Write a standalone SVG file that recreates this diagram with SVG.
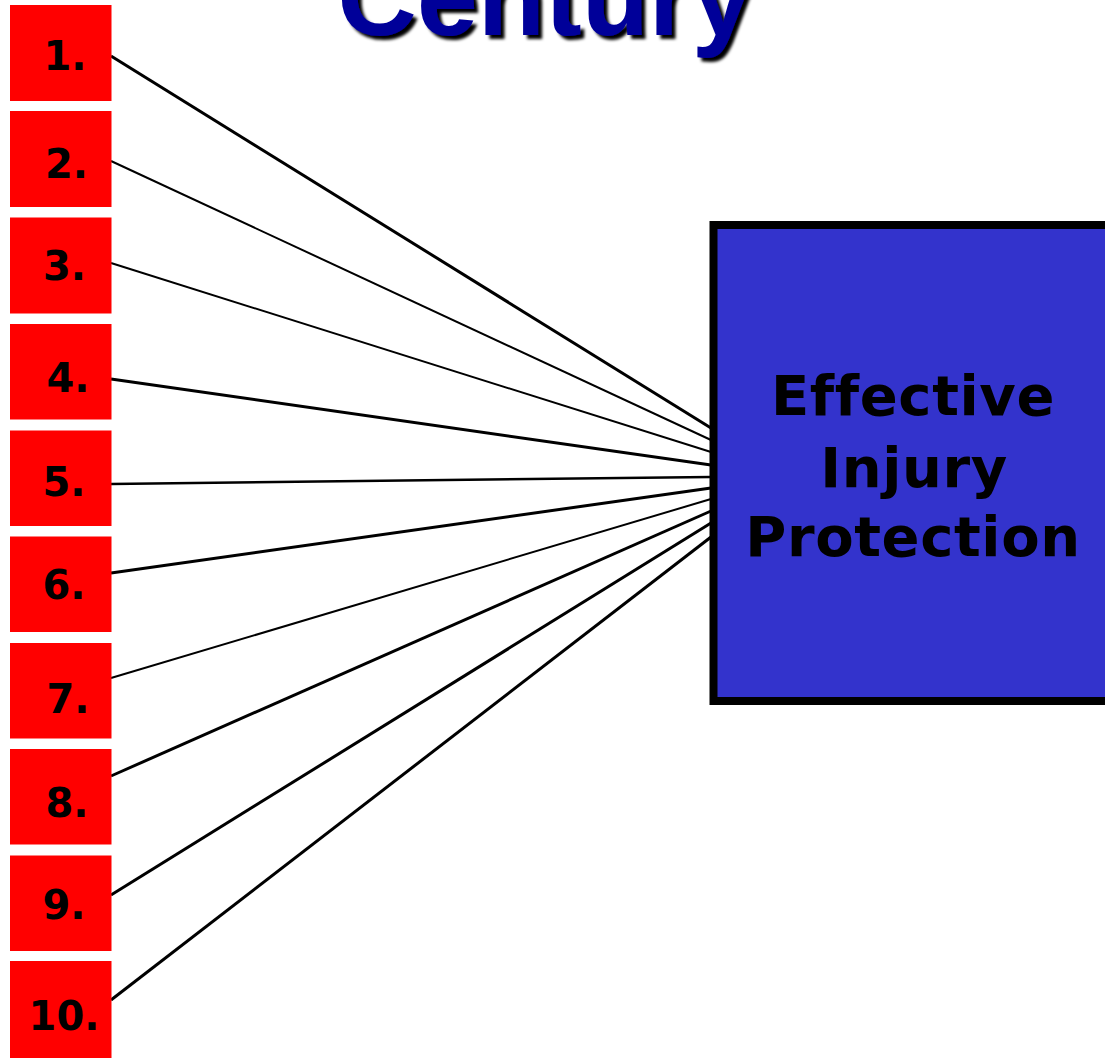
<svg xmlns="http://www.w3.org/2000/svg" width="1105" height="1058" viewBox="0 0 1105 1058">
<style>
.box{fill:#FF0000}
.lbl{font-family:"DejaVu Sans",Verdana,sans-serif;font-weight:bold;font-size:40px;fill:#000;text-anchor:middle}
.main{font-family:"DejaVu Sans",Verdana,sans-serif;font-weight:bold;font-size:56px;fill:#000;text-anchor:middle;letter-spacing:0.6px}
.title{font-family:"Liberation Sans",Arial,sans-serif;font-weight:bold;font-size:110px;text-anchor:middle}
.c{stroke:#000;fill:none;stroke-linecap:butt}
</style>
<defs>
<filter id="sh" x="-10%" y="-50%" width="120%" height="200%">
<feGaussianBlur in="SourceAlpha" stdDeviation="1.5" result="b"/>
<feOffset in="b" dx="4" dy="4" result="o"/>
<feMerge><feMergeNode in="o"/><feMergeNode in="SourceGraphic"/></feMerge>
</filter>
</defs>
<g id="title">
<text class="title" x="545" y="35" fill="#000099" filter="url(#sh)">Century</text>
</g>
<g id="connectors">
<line class="c" x1="111" y1="56" x2="711" y2="428" stroke-width="3"/>
<line class="c" x1="111" y1="161" x2="711" y2="440" stroke-width="2"/>
<line class="c" x1="111" y1="263" x2="711" y2="452" stroke-width="2"/>
<line class="c" x1="111" y1="379" x2="711" y2="465" stroke-width="3"/>
<line class="c" x1="111" y1="484" x2="711" y2="477" stroke-width="2.5"/>
<line class="c" x1="111" y1="573" x2="711" y2="488" stroke-width="3"/>
<line class="c" x1="111" y1="678" x2="711" y2="499" stroke-width="2"/>
<line class="c" x1="111" y1="776" x2="711" y2="511" stroke-width="3"/>
<line class="c" x1="111" y1="895" x2="711" y2="523" stroke-width="3"/>
<line class="c" x1="111" y1="1000" x2="711" y2="537" stroke-width="3"/>
</g>
<g id="n1"><rect class="box" x="10" y="5" width="101.5" height="96"/><text class="lbl" x="65" y="70">1.</text></g>
<g id="n2"><rect class="box" x="10" y="111" width="101.5" height="96"/><text class="lbl" x="66.5" y="178">2.</text></g>
<g id="n3"><rect class="box" x="10" y="217.5" width="101.5" height="96"/><text class="lbl" x="64.5" y="280">3.</text></g>
<g id="n4"><rect class="box" x="10" y="324" width="101.5" height="95.5"/><text class="lbl" x="68" y="392">4.</text></g>
<g id="n5"><rect class="box" x="10" y="430.5" width="101.5" height="95.5"/><text class="lbl" x="64" y="496">5.</text></g>
<g id="n6"><rect class="box" x="10" y="536.5" width="101.5" height="95.5"/><text class="lbl" x="64" y="599">6.</text></g>
<g id="n7"><rect class="box" x="10" y="643" width="101.5" height="95.5"/><text class="lbl" x="68" y="713">7.</text></g>
<g id="n8"><rect class="box" x="10" y="749" width="101.5" height="95.5"/><text class="lbl" x="67" y="817">8.</text></g>
<g id="n9"><rect class="box" x="10" y="855.5" width="101.5" height="95.5"/><text class="lbl" x="64" y="919">9.</text></g>
<g id="n10"><rect class="box" x="10" y="961" width="101.5" height="97"/><text class="lbl" x="64" y="1030">10.</text></g>
<g id="main">
<rect x="713.5" y="225" width="400" height="476" fill="#3333CC" stroke="#000" stroke-width="8"/>
<text class="main" x="913" y="415">Effective</text>
<text class="main" x="914" y="487">Injury</text>
<text class="main" x="913" y="556">Protection</text>
</g>
</svg>
